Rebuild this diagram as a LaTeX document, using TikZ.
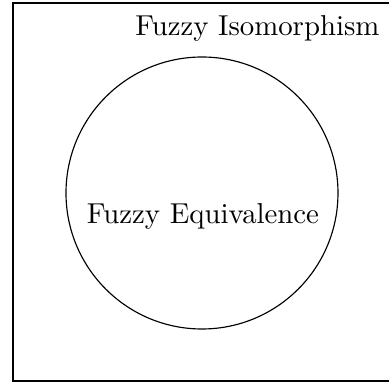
\documentclass[tikz,border=0pt]{standalone}
\usepackage{tikz}

\begin{document}
\begin{tikzpicture}[
        x=0.3472pt, y=-0.3472pt,
        universe/.style={draw, line width=0.6pt},
        subset/.style={draw, line width=0.4pt},
        setname/.style={inner sep=0pt}
    ]
    \clip (0,0) rectangle (389,383);
    \draw[universe] (13,3) rectangle (420,381);
    \draw[subset] (202,193) circle (136);
    \coordinate (isoanchor) at (380,35);
    \coordinate (equivanchor) at (203,224);
    \node[setname, anchor=base east] (iso) at (isoanchor) {Fuzzy Isomorphism};
    \node[setname, anchor=base] (equiv) at (equivanchor) {Fuzzy Equivalence};
\end{tikzpicture}
\end{document}
